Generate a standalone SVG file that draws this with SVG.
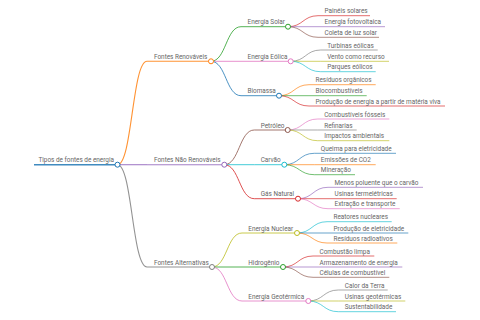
<svg xmlns="http://www.w3.org/2000/svg" width="480" height="320" viewBox="0 0 480 320">
<style>
text{font-family:Roboto,"Liberation Sans",sans-serif;font-size:6.4px;fill:#666}
path,line{fill:none;stroke-opacity:0.85}
.c{fill:#fff;stroke-width:1}
.l0{stroke-width:1.4}
.l1{stroke-width:1.1}
.l2{stroke-width:0.95}
.l3{stroke-width:0.8}
</style>
<rect width="480" height="320" fill="#fff"/>
<g id="connectors">
<path class="l1" stroke="#ff7f0e" d="M117.5 164.7C132.2 164.7 132.2 61.3 147 61.3"/>
<path class="l1" stroke="#9467bd" d="M117.5 164.7L147 164.7"/>
<path class="l1" stroke="#7f7f7f" d="M117.5 164.7C132.2 164.7 132.2 267 147 267"/>
<path class="l2" stroke="#2ca02c" d="M211 61.3C226 61.3 226 26.7 241 26.7"/>
<path class="l2" stroke="#e377c2" d="M211 61.3L241 61.3"/>
<path class="l2" stroke="#1f77b4" d="M211 61.3C226 61.3 226 95.7 241 95.7"/>
<path class="l2" stroke="#8c564b" d="M224.3 164.7C239.3 164.7 239.3 130 254.3 130"/>
<path class="l2" stroke="#17becf" d="M224.3 164.7L254.3 164.7"/>
<path class="l2" stroke="#d62728" d="M224.3 164.7C239.3 164.7 239.3 198.7 254.3 198.7"/>
<path class="l2" stroke="#bcbd22" d="M212 267C227 267 227 233 242 233"/>
<path class="l2" stroke="#2ca02c" d="M212 267L242 267"/>
<path class="l2" stroke="#e377c2" d="M212 267C227 267 227 301 242 301"/>
<path class="l3" stroke="#d62728" d="M288 26.7C303 26.7 303 15.7 318 15.7"/>
<path class="l3" stroke="#9467bd" d="M288 26.7L318 26.7"/>
<path class="l3" stroke="#8c564b" d="M288 26.7C303 26.7 303 37.3 318 37.3"/>
<path class="l3" stroke="#7f7f7f" d="M290.7 61.3C305.7 61.3 305.7 50 320.7 50"/>
<path class="l3" stroke="#bcbd22" d="M290.7 61.3L320.7 61.3"/>
<path class="l3" stroke="#17becf" d="M290.7 61.3C305.7 61.3 305.7 71.7 320.7 71.7"/>
<path class="l3" stroke="#ff7f0e" d="M279 95.7C294 95.7 294 84.7 309 84.7"/>
<path class="l3" stroke="#2ca02c" d="M279 95.7L309 95.7"/>
<path class="l3" stroke="#d62728" d="M279 95.7C294 95.7 294 106 309 106"/>
<path class="l3" stroke="#e377c2" d="M287.7 130C302.7 130 302.7 119 317.7 119"/>
<path class="l3" stroke="#7f7f7f" d="M287.7 130L317.7 130"/>
<path class="l3" stroke="#bcbd22" d="M287.7 130C302.7 130 302.7 140.7 317.7 140.7"/>
<path class="l3" stroke="#1f77b4" d="M284.3 164.7C299.3 164.7 299.3 153.3 314.3 153.3"/>
<path class="l3" stroke="#ff7f0e" d="M284.3 164.7L314.3 164.7"/>
<path class="l3" stroke="#2ca02c" d="M284.3 164.7C299.3 164.7 299.3 174.7 314.3 174.7"/>
<path class="l3" stroke="#9467bd" d="M298 198.7C313 198.7 313 187.3 328 187.3"/>
<path class="l3" stroke="#d62728" d="M298 198.7L328 198.7"/>
<path class="l3" stroke="#e377c2" d="M298 198.7C313 198.7 313 208.7 328 208.7"/>
<path class="l3" stroke="#17becf" d="M297 233C312 233 312 221.7 327 221.7"/>
<path class="l3" stroke="#1f77b4" d="M297 233L327 233"/>
<path class="l3" stroke="#ff7f0e" d="M297 233C312 233 312 243 327 243"/>
<path class="l3" stroke="#d62728" d="M283 267C298 267 298 256 313 256"/>
<path class="l3" stroke="#9467bd" d="M283 267L313 267"/>
<path class="l3" stroke="#8c564b" d="M283 267C298 267 298 277.3 313 277.3"/>
<path class="l3" stroke="#7f7f7f" d="M308.3 301C323.3 301 323.3 290 338.3 290"/>
<path class="l3" stroke="#bcbd22" d="M308.3 301L338.3 301"/>
<path class="l3" stroke="#17becf" d="M308.3 301C323.3 301 323.3 311.7 338.3 311.7"/>
</g>
<g id="root"><line class="l0" stroke="#1f77b4" x1="34" y1="164.7" x2="117.5" y2="164.7"/><text x="38.5" y="162.3">Tipos de fontes de energia</text><circle class="c" stroke="#1f77b4" cx="117.5" cy="164.7" r="2.5"/></g>
<g id="renovaveis"><line class="l1" stroke="#ff7f0e" x1="147" y1="61.3" x2="211" y2="61.3"/><text x="154" y="58.9">Fontes Renováveis</text><circle class="c" stroke="#ff7f0e" cx="211" cy="61.3" r="2.5"/></g>
<g id="nao-renovaveis"><line class="l1" stroke="#9467bd" x1="147" y1="164.7" x2="224.3" y2="164.7"/><text x="154" y="162.3">Fontes Não Renováveis</text><circle class="c" stroke="#9467bd" cx="224.3" cy="164.7" r="2.5"/></g>
<g id="alternativas"><line class="l1" stroke="#7f7f7f" x1="147" y1="267" x2="212" y2="267"/><text x="154" y="264.6">Fontes Alternativas</text><circle class="c" stroke="#7f7f7f" cx="212" cy="267" r="2.5"/></g>
<g id="solar"><line class="l2" stroke="#2ca02c" x1="241" y1="26.7" x2="288" y2="26.7"/><text x="247.5" y="24.3">Energia Solar</text><circle class="c" stroke="#2ca02c" cx="288" cy="26.7" r="2.5"/></g>
<g id="eolica"><line class="l2" stroke="#e377c2" x1="241" y1="61.3" x2="290.7" y2="61.3"/><text x="247.5" y="58.9">Energia Eólica</text><circle class="c" stroke="#e377c2" cx="290.7" cy="61.3" r="2.5"/></g>
<g id="biomassa"><line class="l2" stroke="#1f77b4" x1="241" y1="95.7" x2="279" y2="95.7"/><text x="247.5" y="93.3">Biomassa</text><circle class="c" stroke="#1f77b4" cx="279" cy="95.7" r="2.5"/></g>
<g id="petroleo"><line class="l2" stroke="#8c564b" x1="254.3" y1="130" x2="287.7" y2="130"/><text x="260.7" y="127.6">Petróleo</text><circle class="c" stroke="#8c564b" cx="287.7" cy="130" r="2.5"/></g>
<g id="carvao"><line class="l2" stroke="#17becf" x1="254.3" y1="164.7" x2="284.3" y2="164.7"/><text x="260.7" y="162.3">Carvão</text><circle class="c" stroke="#17becf" cx="284.3" cy="164.7" r="2.5"/></g>
<g id="gas-natural"><line class="l2" stroke="#d62728" x1="254.3" y1="198.7" x2="298" y2="198.7"/><text x="260.7" y="196.3">Gás Natural</text><circle class="c" stroke="#d62728" cx="298" cy="198.7" r="2.5"/></g>
<g id="nuclear"><line class="l2" stroke="#bcbd22" x1="242" y1="233" x2="297" y2="233"/><text x="248.3" y="230.6">Energia Nuclear</text><circle class="c" stroke="#bcbd22" cx="297" cy="233" r="2.5"/></g>
<g id="hidrogenio"><line class="l2" stroke="#2ca02c" x1="242" y1="267" x2="283" y2="267"/><text x="248.3" y="264.6">Hidrogênio</text><circle class="c" stroke="#2ca02c" cx="283" cy="267" r="2.5"/></g>
<g id="geotermica"><line class="l2" stroke="#e377c2" x1="242" y1="301" x2="308.3" y2="301"/><text x="248.3" y="298.6">Energia Geotérmica</text><circle class="c" stroke="#e377c2" cx="308.3" cy="301" r="2.5"/></g>
<g id="paineis"><line class="l3" stroke="#d62728" x1="318" y1="15.7" x2="370" y2="15.7"/><text x="324.5" y="13.3">Painéis solares</text></g>
<g id="fotovoltaica"><line class="l3" stroke="#9467bd" x1="318" y1="26.7" x2="385" y2="26.7"/><text x="324.5" y="24.3">Energia fotovoltaica</text></g>
<g id="coleta"><line class="l3" stroke="#8c564b" x1="318" y1="37.3" x2="379" y2="37.3"/><text x="324.5" y="34.9">Coleta de luz solar</text></g>
<g id="turbinas"><line class="l3" stroke="#7f7f7f" x1="320.7" y1="50" x2="377.7" y2="50"/><text x="327.2" y="47.6">Turbinas eólicas</text></g>
<g id="vento"><line class="l3" stroke="#bcbd22" x1="320.7" y1="61.3" x2="389" y2="61.3"/><text x="327.2" y="58.9">Vento como recurso</text></g>
<g id="parques"><line class="l3" stroke="#17becf" x1="320.7" y1="71.7" x2="375.7" y2="71.7"/><text x="327.2" y="69.3">Parques eólicos</text></g>
<g id="residuos-organicos"><line class="l3" stroke="#ff7f0e" x1="309" y1="84.7" x2="375.7" y2="84.7"/><text x="315.5" y="82.3">Resíduos orgânicos</text></g>
<g id="biocombustiveis"><line class="l3" stroke="#2ca02c" x1="309" y1="95.7" x2="366.7" y2="95.7"/><text x="315.5" y="93.3">Biocombustíveis</text></g>
<g id="producao-materia"><line class="l3" stroke="#d62728" x1="309" y1="106" x2="445" y2="106"/><text x="315.5" y="103.6">Produção de energia a partir de matéria viva</text></g>
<g id="fosseis"><line class="l3" stroke="#e377c2" x1="317.7" y1="119" x2="389.3" y2="119"/><text x="324.2" y="116.6">Combustíveis fósseis</text></g>
<g id="refinarias"><line class="l3" stroke="#7f7f7f" x1="317.7" y1="130" x2="356.7" y2="130"/><text x="324.2" y="127.6">Refinarias</text></g>
<g id="impactos"><line class="l3" stroke="#bcbd22" x1="317.7" y1="140.7" x2="389.3" y2="140.7"/><text x="324.2" y="138.3">Impactos ambientais</text></g>
<g id="queima"><line class="l3" stroke="#1f77b4" x1="314.3" y1="153.3" x2="396" y2="153.3"/><text x="320.8" y="150.9">Queima para eletricidade</text></g>
<g id="emissoes"><line class="l3" stroke="#ff7f0e" x1="314.3" y1="164.7" x2="375.7" y2="164.7"/><text x="320.8" y="162.3">Emissões de CO2</text></g>
<g id="mineracao"><line class="l3" stroke="#2ca02c" x1="314.3" y1="174.7" x2="355" y2="174.7"/><text x="320.8" y="172.3">Mineração</text></g>
<g id="menos-poluente"><line class="l3" stroke="#9467bd" x1="328" y1="187.3" x2="423" y2="187.3"/><text x="334.5" y="184.9">Menos poluente que o carvão</text></g>
<g id="termeletricas"><line class="l3" stroke="#d62728" x1="328" y1="198.7" x2="396.7" y2="198.7"/><text x="334.5" y="196.3">Usinas termelétricas</text></g>
<g id="extracao"><line class="l3" stroke="#e377c2" x1="328" y1="208.7" x2="399.7" y2="208.7"/><text x="334.5" y="206.3">Extração e transporte</text></g>
<g id="reatores"><line class="l3" stroke="#17becf" x1="327" y1="221.7" x2="391.7" y2="221.7"/><text x="333.5" y="219.3">Reatores nucleares</text></g>
<g id="producao-eletricidade"><line class="l3" stroke="#1f77b4" x1="327" y1="233" x2="408.3" y2="233"/><text x="333.5" y="230.6">Produção de eletricidade</text></g>
<g id="radioativos"><line class="l3" stroke="#ff7f0e" x1="327" y1="243" x2="397.3" y2="243"/><text x="333.5" y="240.6">Resíduos radioativos</text></g>
<g id="combustao"><line class="l3" stroke="#d62728" x1="313" y1="256" x2="374.3" y2="256"/><text x="319.5" y="253.6">Combustão limpa</text></g>
<g id="armazenamento"><line class="l3" stroke="#9467bd" x1="313" y1="267" x2="402.3" y2="267"/><text x="319.5" y="264.6">Armazenamento de energia</text></g>
<g id="celulas"><line class="l3" stroke="#8c564b" x1="313" y1="277.3" x2="389.3" y2="277.3"/><text x="319.5" y="274.9">Células de combustível</text></g>
<g id="calor"><line class="l3" stroke="#7f7f7f" x1="338.3" y1="290" x2="387.7" y2="290"/><text x="344.8" y="287.6">Calor da Terra</text></g>
<g id="usinas-geotermicas"><line class="l3" stroke="#bcbd22" x1="338.3" y1="301" x2="405.3" y2="301"/><text x="344.8" y="298.6">Usinas geotérmicas</text></g>
<g id="sustentabilidade"><line class="l3" stroke="#17becf" x1="338.3" y1="311.7" x2="396" y2="311.7"/><text x="344.8" y="309.3">Sustentabilidade</text></g>
</svg>
